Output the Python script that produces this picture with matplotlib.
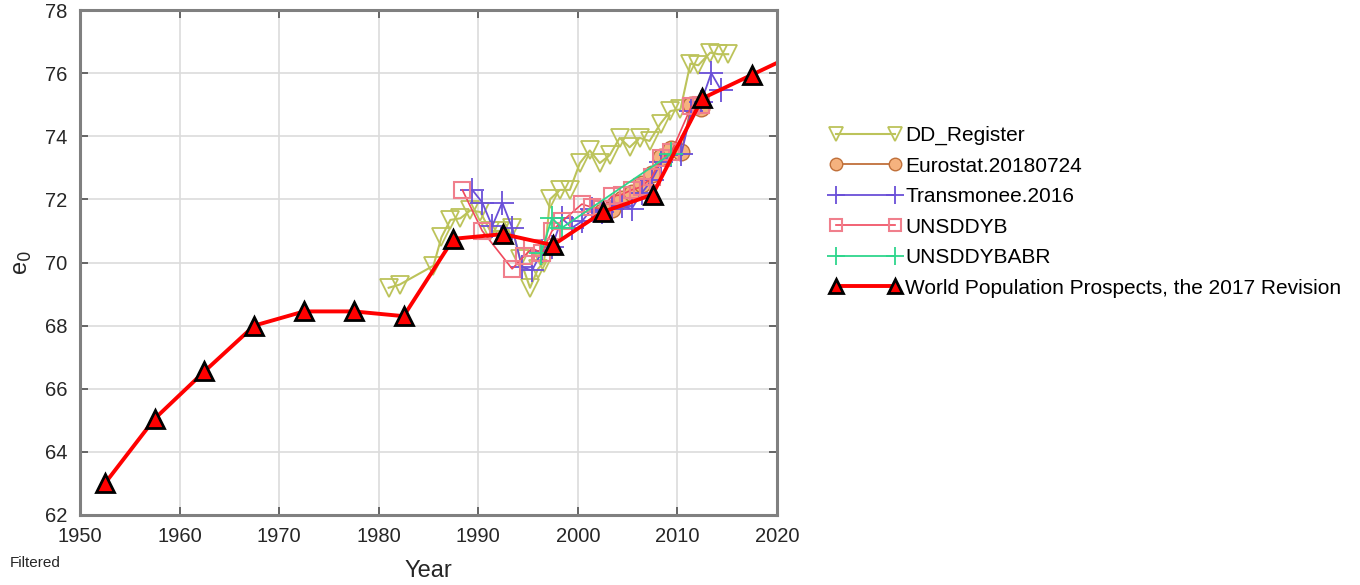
import numpy as np
import matplotlib
matplotlib.use('Agg')
import matplotlib.pyplot as plt

# World Population Prospects, 5-year periods
wpp_x = [1952.5, 1957.5, 1962.5, 1967.5, 1972.5, 1977.5, 1982.5, 1987.5, 1992.5,
         1997.5, 2002.5, 2007.5, 2012.5, 2017.5, 2022.5]
wpp_y = [63.0, 65.05, 66.55, 68.0, 68.45, 68.45, 68.3, 70.75, 70.9,
         70.55, 71.6, 72.15, 75.2, 75.95, 76.7]

dd_x = [1981.0, 1982.1, 1985.5, 1986.3, 1987.2, 1988.2, 1989.2, 1990.2, 1991.2, 1992.2,
        1993.4, 1994.2, 1995.2, 1996.0, 1996.6, 1997.2, 1998.2, 1999.2, 2000.2, 2001.2,
        2002.2, 2003.2, 2004.2, 2005.2, 2006.2, 2007.2, 2008.3, 2009.3, 2010.3, 2011.3,
        2012.1, 2013.3, 2014.1, 2015.1]
dd_y = [69.2, 69.3, 69.9, 70.8, 71.35, 71.4, 71.65, 71.6, 71.0, 71.0,
        71.1, 70.1, 69.2, 69.8, 70.0, 72.0, 72.3, 72.3, 73.15, 73.55,
        73.15, 73.4, 73.95, 73.65, 73.95, 73.85, 74.4, 74.8, 74.85, 76.3,
        76.25, 76.65, 76.6, 76.6]

euro_x = [2002.4, 2003.4, 2004.4, 2005.4, 2006.4, 2007.4, 2008.4, 2009.4, 2010.4, 2011.4, 2012.4]
euro_y = [71.6, 71.7, 72.0, 72.2, 72.5, 72.8, 73.35, 73.6, 73.5, 75.0, 74.9]

tm_x = [1989.4, 1990.4, 1991.4, 1992.4, 1993.4, 1994.4, 1995.4, 1996.4, 1997.4, 1998.4,
        1999.4, 2000.4, 2001.4, 2002.4, 2003.4, 2004.4, 2005.4, 2006.4, 2007.4, 2008.4,
        2009.4, 2010.4, 2011.4, 2012.4, 2013.4, 2014.4]
tm_y = [72.3, 71.9, 71.15, 71.9, 71.1, 69.85, 69.75, 70.35, 70.5, 71.4,
        71.1, 71.3, 71.7, 71.6, 71.7, 71.8, 71.7, 72.2, 72.6, 73.2,
        73.4, 73.45, 74.8, 75.1, 76.0, 75.45]

un_x = [1988.4, 1990.4, 1993.4, 1994.6, 1995.4, 1996.4, 1997.4, 1998.4, 2000.4, 2001.4,
        2002.4, 2003.4, 2004.4, 2005.4, 2006.4, 2007.4, 2008.4, 2009.4, 2011.4, 2012.4]
un_y = [72.3, 71.0, 69.8, 70.2, 70.45, 70.3, 71.0, 71.3, 71.85, 71.75,
        71.7, 72.1, 72.15, 72.3, 72.4, 72.7, 73.3, 73.5, 74.95, 75.0]

abr_x = [1996.3, 1997.4, 1998.4, 2009.4]
abr_y = [70.3, 71.4, 71.1, 73.45]

xticks = [1950, 1960, 1970, 1980, 1990, 2000, 2010, 2020]
yticks = [62, 64, 66, 68, 70, 72, 74, 76, 78]

plt.rcParams['font.family'] = ['Liberation Sans', 'DejaVu Sans']

fig = plt.figure(figsize=(13.6, 5.85), dpi=100)
ax = fig.add_axes([80/1360, 1-515/585, 697/1360, 505/585])

olive = '#bcc35a'
ax.plot(dd_x, dd_y, '-', color=olive, lw=1.5, marker='v', ms=13, mfc='none',
        mec=olive, mew=1.3, label='DD_Register')
ax.plot(euro_x, euro_y, '-', color='#c0703a', lw=1.3, marker='o', ms=12, mfc='#f5b27e',
        mec='#c0703a', mew=1.0, label='Eurostat.20180724')
ax.plot(tm_x, tm_y, '-', color='#6a4fd8', lw=1.3, marker='+', ms=17, mew=1.3,
        label='Transmonee.2016')
ax.plot(un_x, un_y, '-', color='#f0485c', lw=1.2, marker='s', ms=11, mfc='none',
        mec='#f07f8c', mew=1.5, label='UNSDDYB')
ax.plot(abr_x, abr_y, '-', color='#2ed68c', lw=1.3, marker='+', ms=17, mew=1.3,
        label='UNSDDYBABR')
ax.plot(wpp_x, wpp_y, '-', color='#ff0000', lw=2.8, marker='^', ms=13, mfc='#ff0000',
        mec='black', mew=2.0, label='World Population Prospects, the 2017 Revision')

ax.set_xlim(1950, 2020)
ax.set_ylim(62, 78)
ax.set_xticks(xticks)
ax.set_yticks(yticks)
ax.grid(True, color='#dcdcdc', lw=1.2)
ax.set_axisbelow(True)
for s in ax.spines.values():
    s.set_color('#808080')
    s.set_linewidth(2.2)
ax.tick_params(direction='in', length=6, width=1.2, color='#505050', top=True, right=True,
               labelsize=14.5, pad=9)
for lab in ax.get_xticklabels() + ax.get_yticklabels():
    lab.set_color('#262626')

ax.set_xlabel('Year', fontsize=17, color='#262626', labelpad=10)
ax.set_ylabel(r'e$_0$', fontsize=17, color='#262626', labelpad=8)

fig.legend(loc='upper left', bbox_to_anchor=(830/1360, 1-126/585), frameon=False,
           fontsize=15, handlelength=3.4, numpoints=2, borderpad=0, labelspacing=0.55,
           handletextpad=0.2, borderaxespad=0, markerscale=0.75)

fig.text(10/1360, 1-563/585, 'Filtered', fontsize=11, va='center', color='#262626')

fig.savefig('out.png', dpi=100)
